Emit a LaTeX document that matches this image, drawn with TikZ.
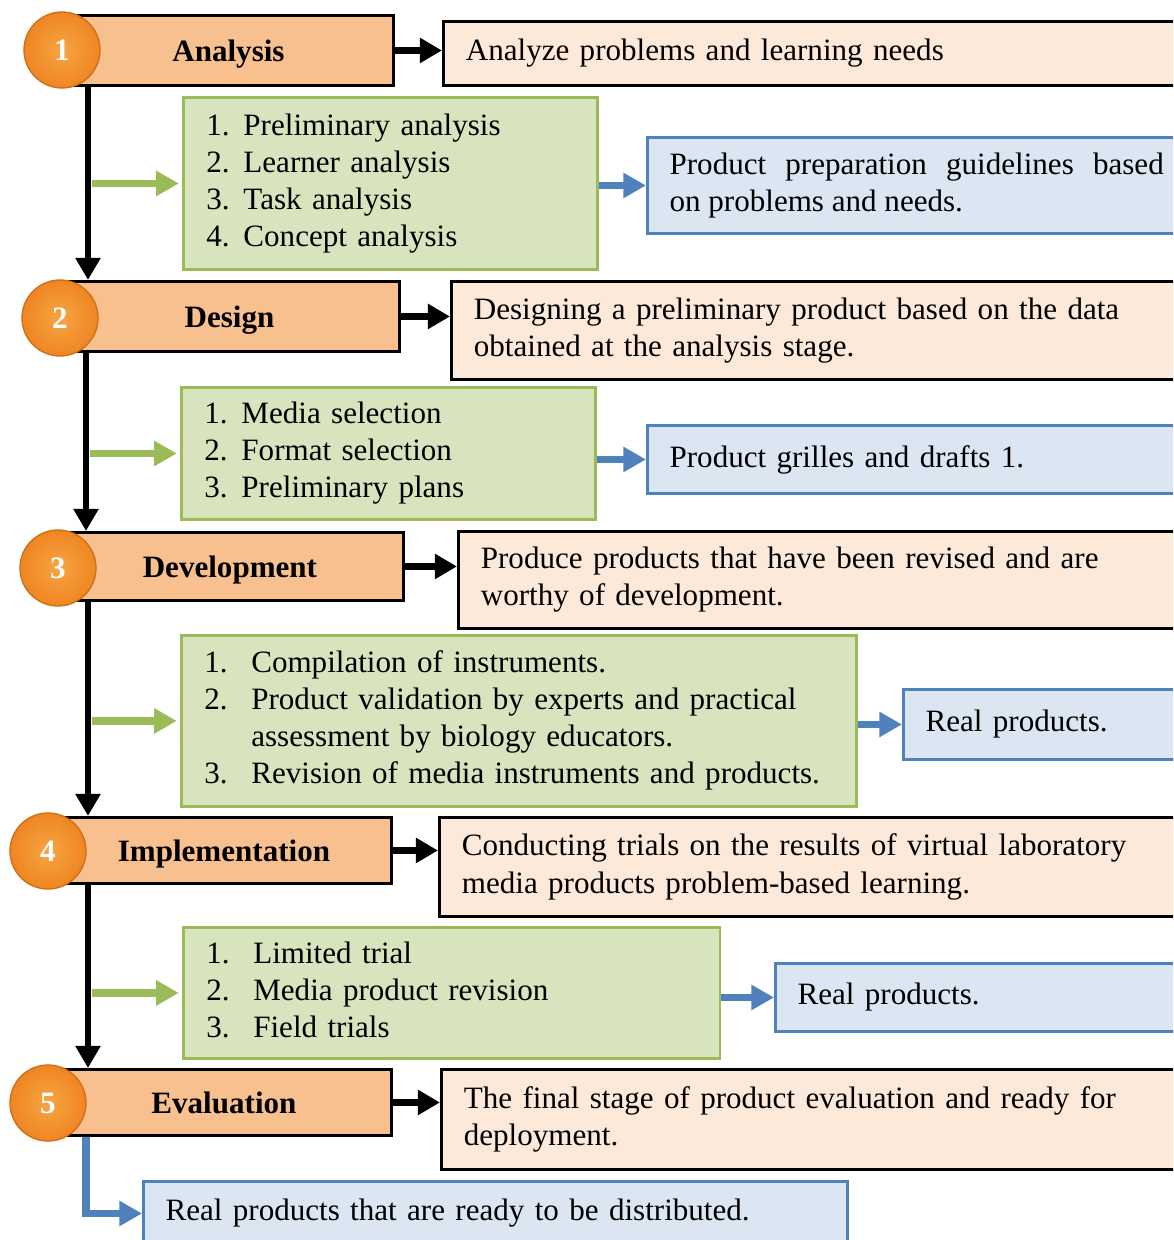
\documentclass[tikz,border=0pt]{standalone}
\usepackage{fontspec}
\setmainfont{Liberation Serif}
\usetikzlibrary{arrows.meta}

\definecolor{stagefill}{HTML}{F9C08F}
\definecolor{notefill}{HTML}{FDE9D9}
\definecolor{listfill}{HTML}{D7E4BD}
\definecolor{listline}{HTML}{9BBB59}
\definecolor{prodfill}{HTML}{DCE6F2}
\definecolor{prodline}{HTML}{4F81BD}
\definecolor{ballin}{HTML}{F8A444}
\definecolor{ballout}{HTML}{EE8622}
\definecolor{balledge}{HTML}{D06E18}

\begin{document}
\begin{tikzpicture}[x=0.375pt, y=-0.375pt,
	every node/.style={font=\fontsize{11.65}{13.9}\selectfont},
	stage/.style={draw=black, line width=1.1pt, fill=stagefill, anchor=north west, text depth=0pt, font=\fontsize{11.65}{13.9}\selectfont\bfseries},
	num/.style={circle, minimum size=28.5pt, inner sep=0pt, draw=balledge, line width=0.5pt, shading=radial, inner color=ballin, outer color=ballout, text=white, font=\fontsize{11.65}{13.9}\selectfont\bfseries},
	note/.style={draw=black, line width=1.1pt, fill=notefill, anchor=north west, align=left, inner xsep=8.4pt},
	steps/.style={draw=listline, line width=1.1pt, fill=listfill, anchor=north west, align=left, inner xsep=8.6pt},
	prod/.style={draw=prodline, line width=1.1pt, fill=prodfill, anchor=north west, align=left, inner xsep=8.3pt},
	flow/.style={line width=2.6pt, -{Triangle[length=8.3pt,width=9pt]}},
	gflow/.style={line width=2.8pt, listline, shorten >=1.2pt, -{Triangle[length=8.5pt,width=9pt]}},
	bflow/.style={line width=2.8pt, prodline, -{Triangle[length=8.5pt,width=9pt]}}]
	\clip (0,0) rectangle (1173,1240);
	
	% analysis
	\node[stage, minimum width=123.75pt, minimum height=26.25pt] (s1) at (62,14) {Analysis};
	\node[note, text width=263pt, minimum height=24pt] (r1) at (442,20) {Analyze problems and learning needs};
	\node[steps, text width=138pt, minimum height=64.5pt] (g1) at (182,96) {\begin{tabular}{@{}p{13.9pt}@{}l@{}}
		1. & Preliminary analysis\\ 2. & Learner analysis\\ 3. & Task analysis\\ 4. & Concept analysis
	\end{tabular}};
	\node[prod, text width=185.3pt, minimum height=36pt, align=justify] (b1) at (646,136) {Product preparation guidelines based\linebreak on problems and needs.};
	
	% design
	\node[stage, minimum width=127.5pt, minimum height=26.25pt] (s2) at (58,280) {Design};
	\node[note, text width=260.7pt, minimum height=36.75pt] (r2) at (450,280) {Designing a preliminary product based on the data\\obtained at the analysis stage.};
	\node[steps, text width=138pt, minimum height=49.5pt] (g2) at (180,386) {\begin{tabular}{@{}p{13.9pt}@{}l@{}}
		1. & Media selection\\ 2. & Format selection\\ 3. & Preliminary plans
	\end{tabular}};
	\node[prod, text width=185.3pt, minimum height=25.5pt] (b2) at (646,424) {Product grilles and drafts 1.};
	
	% development
	\node[stage, minimum width=130.1pt, minimum height=25.5pt] (s3) at (55,531) {Development};
	\node[note, text width=258pt, minimum height=36.4pt] (r3) at (457,530) {Produce products that have been revised and are\\worthy of development.};
	\node[steps, text width=236pt, minimum height=64.1pt] (g3) at (180,634) {\begin{tabular}{@{}p{17.6pt}@{}l@{}}
		1. & Compilation of instruments.\\ 2. & Product validation by experts and practical\\ & assessment by biology educators.\\ 3. & Revision of media instruments and products.
	\end{tabular}};
	\node[prod, text width=91pt, minimum height=26.25pt] (b3) at (902,688) {Real products.};
	
	% implementation
	\node[stage, minimum width=125.6pt, minimum height=24.75pt] (s4) at (55,816) {Implementation};
	\node[note, text width=265pt, minimum height=37.1pt] (r4) at (438,816) {Conducting trials on the results of virtual laboratory\\media products problem-based learning.};
	\node[steps, text width=184pt, minimum height=49.1pt] (g4) at (182,926) {\begin{tabular}{@{}p{17.6pt}@{}l@{}}
		1. & Limited trial\\ 2. & Media product revision\\ 3. & Field trials
	\end{tabular}};
	\node[prod, text width=139pt, minimum height=25.5pt] (b4) at (774,962) {Real products.};
	
	% evaluation
	\node[stage, minimum width=125.6pt, minimum height=24.75pt] (s5) at (55,1068) {Evaluation};
	\node[note, text width=264pt, minimum height=37.5pt] (r5) at (440,1068) {The final stage of product evaluation and ready for\\deployment.};
	\node[prod, text width=247.4pt, minimum height=24pt] (b5) at (142,1180) {Real products that are ready to be distributed.};
	
	% arrows
	\draw[flow] (s1.east) -- (s1.east -| r1.west);
	\draw[flow] (s2.east) -- (s2.east -| r2.west);
	\draw[flow] (s3.east) -- (s3.east -| r3.west);
	\draw[flow] (s4.east) -- (s4.east -| r4.west);
	\draw[flow] (s5.east) -- (s5.east -| r5.west);
	
	\draw[flow] (88,0 |- s1.south) -- (88,0 |- s2.north);
	\draw[flow] (86,0 |- s2.south) -- (86,0 |- s3.north);
	\draw[flow] (88,0 |- s3.south) -- (88,0 |- s4.north);
	\draw[flow] (88,0 |- s4.south) -- (88,0 |- s5.north);
	\draw[bflow] (86,0 |- s5.south) |- (b5.west);
	
	\draw[gflow] (92,0 |- g1.west) -- (g1.west);
	\draw[gflow] (90,0 |- g2.west) -- (g2.west);
	\draw[gflow] (92,0 |- g3.west) -- (g3.west);
	\draw[gflow] (92,0 |- g4.west) -- (g4.west);
	
	\draw[bflow] (g1.east |- b1.west) -- (b1.west);
	\draw[bflow] (g2.east |- b2.west) -- (b2.west);
	\draw[bflow] (g3.east |- b3.west) -- (b3.west);
	\draw[bflow] (g4.east |- b4.west) -- (b4.west);
	
	% numbers
	\node[num] (c1) at (62,50) {1};
	\node[num] (c2) at (60,318) {2};
	\node[num] (c3) at (58,568) {3};
	\node[num] (c4) at (48,851) {4};
	\node[num] (c5) at (48,1103) {5};
\end{tikzpicture}
\end{document}
